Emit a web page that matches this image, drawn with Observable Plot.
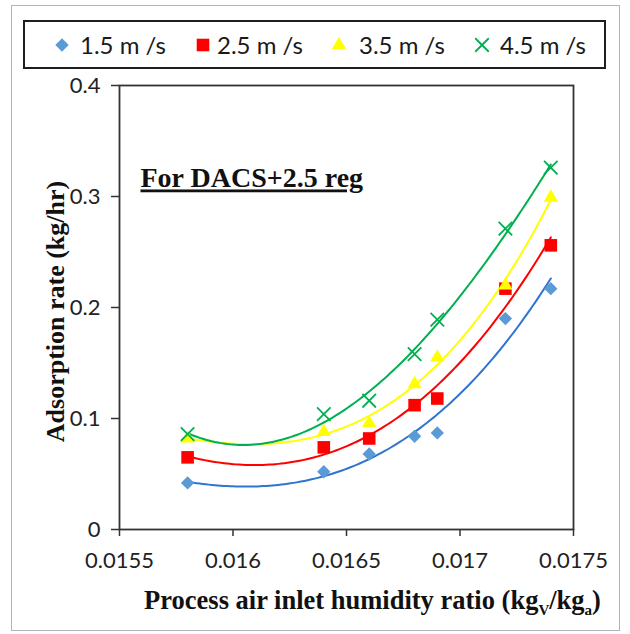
<!DOCTYPE html>
<html>
<head>
<meta charset="utf-8">
<script src="https://cdn.jsdelivr.net/npm/d3@7"></script>
<script src="https://cdn.jsdelivr.net/npm/@observablehq/plot@0.6"></script>
<style>
  body { margin: 0; background: #fff; }
  #chart { position: relative; width: 630px; height: 634px; overflow: hidden; font-family: Lato, sans-serif; }
  #frame { position: absolute; left: 11px; top: 5px; width: 609px; height: 626px; border: 1px solid #b4b4b4; box-sizing: border-box; }
  #legend { position: absolute; left: 23px; top: 20px; width: 583px; height: 49px; border: 2px solid #1e1e1e; box-sizing: border-box; }
  .sym { position: absolute; top: 13px; }
  .lbl { position: absolute; top: 0; height: 45px; line-height: 45px; font-size: 24px; color: #1a1a1a; white-space: nowrap; }
  #plot { position: absolute; left: 0; top: 76px; }
  .note text { text-decoration: underline; }
</style>
</head>
<body>
<div id="chart">
  <div id="frame"></div>
  <div id="legend"></div>
  <div id="plot"></div>
</div>
<script>
// Process air inlet humidity ratio (kg_v/kg_a)
const humidity = [0.0158, 0.0164, 0.0166, 0.0168, 0.0169, 0.0172, 0.0174];

// Air velocity series
const speeds = ["1.5 m /s", "2.5 m /s", "3.5 m /s", "4.5 m /s"];

// Adsorption rate (kg/hr) for each velocity
const rate15 = [0.042, 0.052, 0.068, 0.084, 0.087, 0.190, 0.217];
const rate25 = [0.065, 0.074, 0.082, 0.112, 0.118, 0.217, 0.256];
const rate35 = [0.082, 0.088, 0.096, 0.131, 0.155, 0.220, 0.299];
const rate45 = [0.086, 0.104, 0.116, 0.158, 0.189, 0.271, 0.326];

// Axis ticks
const xTicks = [0.0155, 0.016, 0.0165, 0.017, 0.0175];
const yTicks = [0, 0.1, 0.2, 0.3, 0.4];

const xTitle = "Process air inlet humidity ratio (kgV/kga)";
const yTitle = "Adsorption rate (kg/hr)";
const note = "For DACS+2.5 reg";

// Styling per series
const series = [rate15, rate25, rate35, rate45];
const markColor = ["#5b9bd5", "#ff0000", "#ffff00", "#00b050"];
const lineColor = ["#2e75d0", "#ff0000", "#ffff00", "#00b050"];
const symbolName = ["diamond2", "square", "triangle", "times"];
const symbolR = [6, 7.1, 5.3, 6.2];
const d3Symbols = { diamond2: d3.symbolDiamond2, square: d3.symbolSquare, triangle: d3.symbolTriangle, times: d3.symbolTimes };

// Points
const points = speeds.map((s, i) => humidity.map((h, j) => ({ speed: s, h, rate: series[i][j] })));

// Least-squares polynomial trendline of the given order
function polyFit(xs, ys, order) {
  const mx = d3.mean(xs);
  const u = xs.map(x => (x - mx) * 1000);
  const n = order + 1;
  const A = d3.range(n).map(r => d3.range(n + 1).map(c =>
    c < n ? d3.sum(u, v => v ** (r + c)) : d3.sum(u, (v, k) => ys[k] * v ** r)));
  for (let c = 0; c < n; c++) {
    for (let r = c + 1; r < n; r++) {
      const f = A[r][c] / A[c][c];
      for (let k = c; k <= n; k++) A[r][k] -= f * A[c][k];
    }
  }
  const b = new Array(n).fill(0);
  for (let r = n - 1; r >= 0; r--) {
    let s = A[r][n];
    for (let k = r + 1; k < n; k++) s -= A[r][k] * b[k];
    b[r] = s / A[r][r];
  }
  return x => { const v = (x - mx) * 1000; return d3.sum(b, (bk, k) => bk * v ** k); };
}

const [hMin, hMax] = d3.extent(humidity);
const trends = speeds.map((s, i) => {
  const f = polyFit(humidity, series[i], 3);
  return d3.range(0, 121).map(k => {
    const h = hMin + (hMax - hMin) * k / 120;
    return { speed: s, h, rate: f(h) };
  });
});

const serif = "'Liberation Serif', 'Times New Roman', serif";

const plot = Plot.plot({
  width: 630,
  height: 558,
  marginLeft: 119,
  marginRight: 57,
  marginTop: 9,
  marginBottom: 105,
  style: { fontFamily: "Lato, sans-serif", background: "transparent", overflow: "visible" },
  x: { domain: [0.0155, 0.0175] },
  y: { domain: [0, 0.4] },
  marks: [
    Plot.axisX({ ticks: xTicks, tickFormat: d3.format(".4~f"), tickSize: 7, tickPadding: 16, fontSize: 22, fill: "#222", stroke: "#333", strokeWidth: 1.5, label: null }),
    Plot.axisY({ ticks: yTicks, tickFormat: d3.format(".1~f"), tickSize: 8, tickPadding: 11, fontSize: 22, fill: "#222", stroke: "#333", strokeWidth: 1.5, label: null }),
    Plot.frame({ stroke: "#333", strokeWidth: 1.8 }),
    ...trends.map((t, i) => Plot.line(t, { x: "h", y: "rate", stroke: lineColor[i], strokeWidth: 2 })),
    ...points.map((p, i) => symbolName[i] === "times"
      ? Plot.dot(p, { x: "h", y: "rate", symbol: () => symbolName[i], r: symbolR[i], stroke: markColor[i], strokeWidth: 1.8, fill: "none" })
      : Plot.dot(p, { x: "h", y: "rate", symbol: () => symbolName[i], r: symbolR[i], fill: markColor[i], stroke: "none" })),
    Plot.text([note], { frameAnchor: "top-left", dx: 21, dy: 93, textAnchor: "start", lineAnchor: "middle", fontFamily: serif, fontWeight: "bold", fontSize: 28, fill: "#111", className: "note" }),
    Plot.text([yTitle], { frameAnchor: "left", textAnchor: "middle", rotate: -90, dx: -64, dy: 4, fontFamily: serif, fontWeight: "bold", fontSize: 26, fill: "#111" }),
    Plot.text([xTitle], { frameAnchor: "bottom", textAnchor: "middle", dx: 26, dy: 79, fontFamily: serif, fontWeight: "bold", fontSize: 26.5, fill: "#111", className: "xtitle" })
  ]
});

// Subscripts for kg_v / kg_a in the x-axis title
{
  const t = d3.select(plot).select(".xtitle text");
  t.text(null);
  t.append("tspan").text("Process air inlet humidity ratio (kg");
  t.append("tspan").attr("font-size", 15).attr("dy", 6).text("V");
  t.append("tspan").attr("dy", -6).text("/kg");
  t.append("tspan").attr("font-size", 15).attr("dy", 6).text("a");
  t.append("tspan").attr("dy", -6).text(")");
}

document.getElementById("plot").appendChild(plot);

// Legend: symbol centres and label starts, in legend-box pixels
const legend = d3.select("#legend");
const symCenter = [37, 178, 314, 457];
const labelLeft = [55, 192, 334, 475];
speeds.forEach((s, i) => {
  const svg = legend.append("svg").attr("class", "sym").attr("width", 20).attr("height", 20)
    .attr("viewBox", "-10 -10 20 20").style("left", (symCenter[i] - 10) + "px");
  const path = d3.symbol(d3Symbols[symbolName[i]], symbolR[i] * symbolR[i] * Math.PI)();
  if (symbolName[i] === "times") svg.append("path").attr("d", path).attr("stroke", markColor[i]).attr("stroke-width", 1.8).attr("fill", "none");
  else svg.append("path").attr("d", path).attr("fill", markColor[i]);
  legend.append("div").attr("class", "lbl").style("left", labelLeft[i] + "px").text(s);
});
</script>
</body>
</html>
